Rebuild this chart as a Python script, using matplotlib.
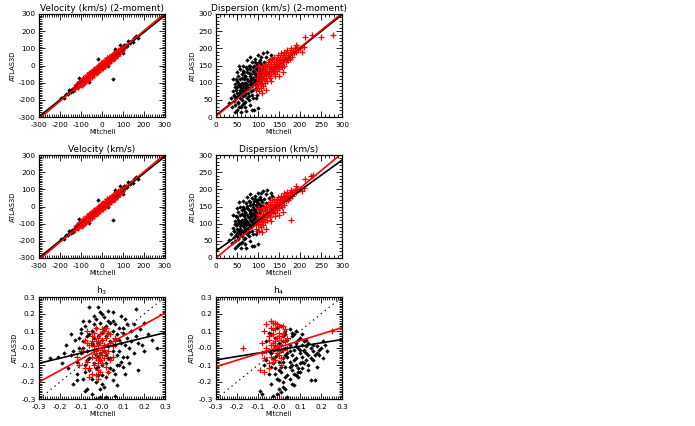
import matplotlib
matplotlib.use("Agg")
import matplotlib.pyplot as plt
from matplotlib.ticker import AutoMinorLocator, FixedLocator, FixedFormatter

# ---------------- data ----------------
titles = ["Velocity (km/s) (2-moment)", "Dispersion (km/s) (2-moment)",
          "Velocity (km/s)", "Dispersion (km/s)", "h$_3$", "h$_4$"]
xlabel = "Mitchell"
ylabel = "ATLAS3D"

vel_ticks = [-300, -200, -100, 0, 100, 200, 300]
vel_labels = ["-300", "-200", "-100", "0", "100", "200", "300"]
disp_ticks = [0, 50, 100, 150, 200, 250, 300]
disp_labels = ["0", "50", "100", "150", "200", "250", "300"]
h_ticks = [-0.3, -0.2, -0.1, 0.0, 0.1, 0.2, 0.3]
h_labels = ["-0.3", "-0.2", "-0.1", "-0.0", "0.1", "0.2", "0.3"]

# Velocity, black points
vel_black_x = [-195, -182, -171, -163, -155, -148, -141, -136, -130, -126,
               -121, -117, -113, -109, -105, -101, -97, -94, -90, -87,
               -84, -80, -77, -74, -71, -68, -65, -62, -59, -56,
               -53, -50, -47, -44, -41, -38, -35, -32, -29, -26,
               -23, -20, -17, -14, -11, -8, -5, -2, 1, 4,
               7, 10, 13, 16, 19, 22, 25, 28, 31, 34,
               37, 40, 43, 46, 49, 52, 55, 58, 61, 64,
               67, 70, 73, 76, 79, 82, 86, 90, 94, 98,
               102, 106, 110, 115, 120, 126, 132, 139, 146, 154,
               162, 170, 51, -20, 30, 60, -60, 85, 100, -110]
vel_black_y = [-187, -192, -166, -166, -143, -154, -137, -148, -123, -128,
               -111, -125, -110, -114, -91, -110, -91, -95, -81, -98,
               -82, -87, -66, -78, -66, -81, -57, -62, -65, -46,
               -56, -43, -56, -40, -56, -26, -37, -26, -37, -23,
               -14, -25, -29, 1, -12, -1, -15, 2, 21, -2,
               10, 1, 24, 12, 25, 8, 27, 36, 24, 44,
               34, 45, 32, 59, 47, 58, 46, 62, 86, 59,
               75, 58, 76, 86, 73, 83, 76, 99, 90, 105,
               92, 118, 107, 120, 112, 141, 130, 145, 135, 158,
               171, 163, -79, 40, -5, 95, -95, 120, 70, -75]

# Velocity, red points
vel_red_x = [-135, -128, -122, -118, -114, -110, -106, -103, -100, -97,
             -94, -91, -88, -85, -83, -80, -78, -75, -73, -70,
             -68, -66, -63, -61, -59, -57, -55, -52, -50, -48,
             -46, -44, -42, -40, -38, -36, -34, -32, -30, -28,
             -26, -24, -22, -20, -18, -16, -14, -12, -10, -8,
             -6, -4, -2, 0, 2, 4, 6, 8, 10, 12,
             14, 16, 18, 20, 22, 24, 26, 28, 30, 32,
             34, 36, 38, 40, 42, 44, 46, 48, 50, 52,
             55, 58, 61, 64, 67, 70, 73, 76, 80, 84,
             88, 92, 97, 103, 110, -45, -25, -5, 15, 35,
             55, -70, -90, 25, 5, -15,
             -120, -112, -104, -96, -92, -86, -82, -76, -72, -66,
             -62, -58, -54, -48, -44, -38, -34, -28, -24, -18,
             -14, -8, -4, 2, 6, 12, 16, 22, 26, 32,
             36, 42, 46, 52, 56, 62, 66, 72, 78, 86]
vel_red_y = [-130, -136, -112, -122, -107, -121, -104, -94, -106, -85,
             -97, -85, -97, -84, -72, -87, -74, -87, -65, -72,
             -58, -71, -60, -71, -52, -57, -63, -40, -54, -42,
             -57, -35, -43, -35, -45, -23, -37, -24, -40, -26,
             -15, -30, -18, -29, -11, -18, -4, -24, -7, -2,
             -14, -3, 10, -5, 11, 1, 13, -3, 14, 6,
             24, 15, 26, 11, 24, 29, 19, 39, 26, 38,
             24, 39, 47, 38, 49, 36, 58, 43, 51, 58,
             46, 68, 58, 72, 61, 74, 62, 83, 82, 80,
             97, 85, 102, 101, 113, -30, -39, 11, 0, 49,
             42, -58, -106, 43, -12, -2,
             -105, -128, -90, -112, -75, -100, -66, -92, -55, -82,
             -45, -74, -38, -65, -28, -54, -20, -44, -8, -35,
             2, -26, 12, -14, 22, -4, 32, 6, 42, 16,
             52, 26, 62, 36, 70, 45, 80, 56, 92, 70]

# Dispersion, black points (same Mitchell values in both rows)
disp_black_x = [32, 35, 38, 40, 42, 44, 45, 46, 47, 48,
                49, 50, 50, 51, 52, 53, 54, 55, 55, 56,
                57, 58, 58, 59, 60, 60, 61, 62, 62, 63,
                64, 65, 65, 66, 67, 67, 68, 69, 70, 70,
                71, 72, 72, 73, 74, 75, 75, 76, 77, 78,
                78, 79, 80, 80, 81, 82, 83, 83, 84, 85,
                85, 86, 87, 88, 88, 89, 90, 90, 91, 92,
                92, 93, 94, 95, 95, 96, 97, 98, 99, 100,
                100, 101, 102, 103, 104, 105, 106, 107, 108, 110,
                112, 113, 115, 117, 118, 120, 122, 125, 128, 130,
                134, 40, 55, 60, 85, 45, 70, 95, 110, 65,
                75, 50,
                42, 46, 50, 53, 56, 59, 62, 64, 66, 68,
                70, 72, 74, 76, 78, 80, 82, 84, 86, 88,
                90, 92, 94, 96, 98, 100, 102, 104, 106, 108,
                48, 58, 68, 78, 88, 98, 52, 62, 72, 82]
disp2_black_y = [40, 55, 30, 75, 48, 62, 95, 35, 80, 55,
                 105, 20, 70, 88, 45, 120, 65, 92, 30, 78,
                 110, 55, 140, 85, 68, 15, 100, 50, 125, 80,
                 95, 60, 135, 110, 75, 40, 88, 120, 65, 100,
                 145, 82, 18, 110, 55, 92, 130, 70, 105, 150,
                 85, 60, 118, 95, 35, 140, 75, 108, 125, 90,
                 160, 65, 115, 100, 135, 80, 150, 110, 20, 95,
                 125, 170, 105, 140, 85, 118, 155, 100, 130, 180,
                 115, 25, 145, 120, 165, 105, 135, 175, 125, 150,
                 185, 140, 160, 130, 175, 150, 190, 165, 145, 180,
                 170, 110, 150, 30, 20, 15, 28, 55, 95, 150,
                 165, 130,
                 65, 88, 58, 100, 72, 95, 115, 88, 130, 70,
                 120, 95, 140, 85, 128, 105, 150, 115, 95, 145,
                 130, 160, 125, 110, 150, 135, 160, 130, 155, 140,
                 110, 90, 45, 50, 55, 65, 40, 35, 95, 175]
disp4_black_y = [52, 70, 45, 88, 60, 78, 108, 50, 95, 68,
                 118, 35, 85, 100, 60, 135, 80, 105, 42, 92,
                 125, 70, 150, 98, 82, 30, 112, 65, 140, 95,
                 108, 75, 148, 122, 90, 55, 102, 135, 80, 115,
                 160, 96, 30, 125, 70, 106, 145, 85, 120, 165,
                 100, 75, 132, 110, 50, 155, 90, 122, 140, 104,
                 175, 80, 130, 115, 150, 95, 165, 125, 35, 110,
                 140, 182, 120, 155, 100, 132, 168, 115, 145, 190,
                 130, 40, 158, 135, 178, 120, 150, 188, 140, 162,
                 195, 152, 172, 142, 185, 160, 198, 175, 155, 188,
                 180, 125, 162, 45, 35, 30, 42, 70, 108, 165,
                 178, 145,
                 78, 100, 72, 112, 85, 108, 128, 100, 142, 84,
                 132, 108, 152, 98, 140, 118, 162, 128, 108, 158,
                 142, 172, 138, 122, 162, 148, 172, 142, 168, 152,
                 122, 104, 58, 64, 70, 80, 55, 48, 108, 185]

# Dispersion, red points (2-moment row)
disp2_red_x = [95, 97, 98, 100, 100, 102, 103, 104, 105, 106,
               107, 108, 109, 110, 110, 111, 112, 113, 114, 115,
               115, 116, 117, 118, 119, 120, 120, 121, 122, 123,
               124, 125, 125, 126, 127, 128, 129, 130, 130, 131,
               132, 133, 134, 135, 135, 136, 137, 138, 139, 140,
               140, 141, 142, 143, 144, 145, 145, 146, 147, 148,
               149, 150, 150, 151, 152, 153, 154, 155, 156, 157,
               158, 159, 160, 161, 162, 163, 165, 166, 167, 168,
               170, 171, 172, 174, 175, 177, 178, 180, 182, 184,
               186, 188, 190, 193, 196, 200, 205, 210, 190, 213,
               229, 249, 279, 120, 130, 140, 110, 160, 100, 150]
disp2_red_y = [80, 100, 115, 90, 130, 105, 75, 120, 95, 140,
               110, 85, 125, 100, 145, 115, 130, 90, 150, 110,
               125, 140, 100, 130, 155, 115, 135, 145, 105, 125,
               160, 140, 120, 130, 150, 115, 165, 135, 145, 125,
               155, 140, 170, 130, 150, 145, 160, 135, 175, 150,
               140, 125, 165, 155, 145, 170, 135, 160, 150, 180,
               145, 165, 155, 140, 175, 160, 150, 185, 165, 145,
               170, 180, 160, 150, 190, 170, 175, 160, 185, 170,
               195, 165, 180, 175, 190, 170, 200, 185, 175, 195,
               185, 200, 190, 205, 195, 200, 190, 205, 209, 233,
               240, 233, 238, 80, 105, 118, 70, 130, 150, 120]

# Dispersion, red points (4-moment row)
disp4_red_x = [95, 97, 98, 100, 100, 102, 103, 104, 105, 106,
               107, 108, 109, 110, 110, 111, 112, 113, 114, 115,
               115, 116, 117, 118, 119, 120, 120, 121, 122, 123,
               124, 125, 125, 126, 127, 128, 129, 130, 130, 131,
               132, 133, 134, 135, 135, 136, 137, 138, 139, 140,
               140, 141, 142, 143, 144, 145, 145, 146, 147, 148,
               149, 150, 150, 151, 152, 153, 154, 155, 156, 157,
               158, 159, 160, 161, 162, 163, 165, 166, 167, 168,
               170, 171, 172, 174, 175, 177, 178, 180, 182, 184,
               186, 188, 190, 193, 196, 200, 205, 210, 190, 213,
               226, 232, 179, 120, 130, 140, 110, 160, 100, 150]
disp4_red_y = [85, 105, 112, 95, 128, 110, 80, 118, 100, 138,
               115, 90, 122, 105, 142, 118, 128, 95, 148, 115,
               122, 138, 105, 128, 152, 120, 132, 142, 110, 128,
               158, 138, 125, 135, 148, 120, 162, 138, 142, 130,
               152, 145, 168, 135, 148, 150, 158, 140, 172, 152,
               145, 130, 162, 158, 148, 168, 140, 158, 155, 178,
               150, 162, 158, 145, 172, 162, 155, 182, 168, 150,
               172, 178, 165, 155, 188, 172, 178, 165, 182, 175,
               192, 168, 182, 178, 188, 175, 198, 188, 180, 195,
               188, 198, 192, 202, 198, 202, 195, 205, 210, 230,
               239, 242, 110, 85, 108, 122, 75, 135, 145, 125]

# h3
h3_black_x = [-0.21, -0.19, -0.17, -0.16, -0.15, -0.14, -0.13, -0.12, -0.12, -0.11,
              -0.10, -0.10, -0.09, -0.09, -0.08, -0.08, -0.07, -0.07, -0.07, -0.06,
              -0.06, -0.06, -0.05, -0.05, -0.05, -0.04, -0.04, -0.04, -0.03, -0.03,
              -0.03, -0.02, -0.02, -0.02, -0.01, -0.01, -0.01, 0.00, 0.00, 0.00,
              0.01, 0.01, 0.01, 0.02, 0.02, 0.02, 0.03, 0.03, 0.03, 0.04,
              0.04, 0.05, 0.05, 0.05, 0.06, 0.06, 0.07, 0.07, 0.08, 0.08,
              0.09, 0.09, 0.10, 0.10, 0.11, 0.12, 0.12, 0.13, 0.14, 0.15,
              0.16, 0.16, 0.17, 0.18, 0.19, 0.20, 0.22, 0.24, 0.26, -0.25,
              -0.06, -0.03, 0.00, 0.02, 0.05, -0.08, -0.02, 0.04, 0.07, -0.04,
              -0.05, -0.01, 0.03, 0.06, -0.11, 0.11, 0.13, -0.14, 0.15, 0.01,
              -0.02, 0.03, -0.07, 0.08, 0.00, -0.09, 0.10, -0.03, 0.05, 0.02,
              -0.15, -0.12, -0.10, -0.08, -0.06, -0.05, -0.04, -0.03, -0.02, -0.01,
              0.00, 0.01, 0.02, 0.03, 0.04, 0.05, 0.06, 0.07, 0.08, 0.09,
              0.10, 0.12, 0.14, 0.17, 0.20, -0.18, -0.09, 0.06, 0.11, -0.01]
h3_black_y = [-0.05, -0.09, 0.02, -0.12, -0.04, -0.21, 0.05, -0.08, -0.15, 0.00,
              -0.03, 0.09, -0.18, 0.04, -0.10, 0.13, -0.02, -0.24, 0.07, 0.16,
              -0.06, -0.13, 0.02, 0.10, -0.27, -0.09, 0.06, 0.19, -0.04, 0.12,
              -0.20, 0.03, -0.11, 0.24, -0.07, 0.15, -0.29, 0.05, -0.16, 0.09,
              -0.02, 0.18, -0.23, 0.07, -0.09, 0.13, 0.01, -0.14, 0.22, 0.04,
              -0.06, 0.10, -0.19, 0.16, 0.02, -0.28, 0.08, -0.04, 0.12, -0.10,
              0.03, 0.19, -0.05, 0.09, -0.15, 0.06, 0.14, 0.00, 0.10, -0.03,
              0.23, 0.07, -0.13, 0.11, 0.02, 0.15, 0.08, 0.05, 0.00, -0.06,
              0.24, -0.30, 0.20, -0.29, 0.21, -0.25, -0.05, 0.15, -0.22, -0.01,
              0.03, -0.03, -0.06, 0.05, 0.06, 0.02, -0.09, -0.02, 0.14, 0.11,
              0.07, 0.09, -0.07, -0.02, -0.10, 0.00, -0.11, -0.12, -0.13, -0.04,
              0.08, -0.19, 0.11, -0.14, 0.08, -0.18, 0.14, 0.17, -0.16, 0.21,
              -0.21, 0.12, -0.17, 0.16, -0.12, -0.02, 0.14, -0.10, 0.05, -0.08,
              0.12, -0.05, 0.04, 0.03, -0.02, -0.03, 0.16, -0.15, 0.17, -0.24]
h3_red_x = [-0.09, -0.08, -0.07, -0.07, -0.06, -0.06, -0.05, -0.05, -0.05, -0.04,
            -0.04, -0.04, -0.03, -0.03, -0.03, -0.02, -0.02, -0.02, -0.02, -0.01,
            -0.01, -0.01, 0.00, 0.00, 0.00, 0.01, 0.01, 0.01, 0.02, 0.02,
            0.02, 0.03, 0.03, 0.04, 0.04, 0.05, 0.05, 0.06, -0.06, -0.08,
            -0.03, -0.01, 0.00, -0.04, 0.01, -0.02, 0.03, -0.05, 0.02, -0.01,
            -0.07, 0.00, -0.03, 0.04, -0.02, -0.12, -0.11, -0.10, -0.02, 0.06]
h3_red_y = [-0.02, 0.05, -0.08, 0.10, -0.12, 0.02, 0.07, -0.05, -0.15, 0.01,
            0.09, -0.10, -0.03, 0.04, 0.12, -0.07, 0.00, 0.06, -0.13, -0.04,
            0.03, 0.08, -0.09, -0.01, 0.05, -0.06, 0.02, 0.10, -0.03, -0.11,
            0.06, -0.02, 0.09, -0.07, 0.03, 0.01, -0.05, 0.04, -0.17, -0.12,
            -0.16, -0.14, 0.11, -0.01, -0.01, 0.02, -0.14, 0.04, 0.12, -0.07,
            0.03, -0.04, -0.06, 0.08, -0.09, -0.05, -0.10, -0.02, -0.18, 0.06]

# h4
h4_black_x = [-0.09, -0.08, -0.07, -0.06, -0.05, -0.05, -0.04, -0.04, -0.03, -0.03,
              -0.03, -0.02, -0.02, -0.02, -0.01, -0.01, -0.01, 0.00, 0.00, 0.00,
              0.01, 0.01, 0.01, 0.02, 0.02, 0.02, 0.03, 0.03, 0.03, 0.04,
              0.04, 0.04, 0.05, 0.05, 0.05, 0.06, 0.06, 0.06, 0.07, 0.07,
              0.07, 0.08, 0.08, 0.08, 0.09, 0.09, 0.10, 0.10, 0.10, 0.11,
              0.11, 0.12, 0.12, 0.13, 0.13, 0.14, 0.14, 0.15, 0.15, 0.16,
              0.16, 0.17, 0.18, 0.18, 0.19, 0.20, 0.21, 0.22, 0.23, 0.18,
              -0.06, 0.02, 0.05, -0.01, 0.03, 0.08, 0.11, 0.00, -0.04, 0.06,
              0.01, 0.04, 0.09, 0.12, 0.02, -0.02, 0.07, 0.10, 0.13, 0.15,
              0.03, 0.09, 0.05, -0.03, 0.00, 0.11, 0.17, 0.14,
              -0.04, -0.02, 0.00, 0.02, 0.03, 0.05, 0.06, 0.08, 0.09, 0.11,
              0.12, 0.14, 0.16, 0.19, 0.21, 0.01, 0.04, 0.07, -0.05, 0.10,
              0.13, 0.03, 0.06, -0.01, 0.08]
h4_black_y = [-0.25, -0.27, -0.10, 0.04, -0.15, -0.02, 0.08, -0.21, -0.06, 0.11,
              -0.28, 0.01, -0.12, 0.06, -0.04, -0.18, 0.12, -0.08, 0.03, -0.24,
              0.13, -0.02, -0.14, 0.07, -0.06, -0.20, 0.00, 0.10, -0.11, -0.03,
              0.05, -0.16, -0.08, 0.02, 0.11, -0.04, -0.13, 0.07, -0.01, -0.22,
              0.08, -0.06, 0.03, -0.10, 0.00, -0.17, -0.03, 0.06, -0.09, 0.02,
              -0.12, -0.01, 0.04, -0.07, 0.01, -0.04, 0.03, -0.19, 0.00, -0.02,
              0.02, -0.19, -0.03, 0.01, -0.01, 0.00, -0.06, 0.02, -0.02, -0.11,
              -0.07, 0.04, -0.02, 0.00, -0.04, 0.01, -0.05, -0.01, -0.03, 0.09,
              -0.26, -0.29, -0.14, -0.02, -0.08, -0.05, -0.07, -0.01, -0.03, -0.06,
              -0.24, 0.05, -0.11, -0.09, -0.13, -0.08, -0.04, -0.10,
              -0.11, -0.15, -0.19, -0.23, 0.08, -0.18, -0.10, 0.10, -0.12, 0.08,
              -0.09, -0.13, -0.07, -0.04, 0.04, -0.11, -0.05, -0.15, 0.09, -0.14,
              0.05, -0.17, -0.21, -0.27, -0.16]
h4_red_x = [-0.09, -0.08, -0.07, -0.07, -0.06, -0.06, -0.05, -0.05, -0.04, -0.04,
            -0.04, -0.03, -0.03, -0.03, -0.02, -0.02, -0.02, -0.01, -0.01, -0.01,
            0.00, 0.00, 0.00, 0.01, 0.01, 0.01, 0.02, 0.02, 0.03, 0.03,
            0.04, 0.04, -0.05, -0.03, -0.01, 0.00, -0.17, 0.25, 0.01, -0.07,
            -0.06, -0.02, -0.08, 0.02, -0.04, 0.00, -0.02, 0.01, -0.05, -0.03]
h4_red_y = [-0.13, 0.03, -0.06, 0.10, -0.02, 0.14, 0.07, -0.09, 0.02, 0.12,
            -0.05, 0.08, -0.01, 0.15, 0.04, -0.07, 0.11, 0.01, 0.06, -0.03,
            0.09, -0.02, 0.13, 0.05, -0.06, 0.02, 0.08, -0.01, 0.04, 0.11,
            0.00, 0.06, 0.05, 0.03, 0.14, -0.04, 0.00, 0.10, -0.30, -0.14,
            0.00, 0.00, -0.03, 0.13, 0.16, 0.07, 0.15, -0.10, -0.12, -0.08]

# Fitted lines (end points)
vel_fit_x = [-300, 300]
vel2_fit_black = [-298, 292]
vel2_fit_red = [-310, 305]
vel4_fit_black = [-298, 292]
vel4_fit_red = [-310, 305]
disp_fit_x = [0, 300]
disp2_fit_black = [5, 298]
disp2_fit_red = [2, 302]
disp4_fit_black = [20, 285]
disp4_fit_red = [0, 305]
h_fit_x = [-0.3, 0.3]
h_one_to_one = [-0.3, 0.3]
h3_fit_black = [-0.09, 0.09]
h3_fit_red = [-0.20, 0.205]
h4_fit_black = [-0.07, 0.05]
h4_fit_red = [-0.11, 0.12]

# ---------------- figure ----------------
plt.rcParams['font.family'] = ['DejaVu Sans']
fig = plt.figure(figsize=(6.95, 4.26), dpi=100)

col_left = [39 / 695, 216 / 695]
ax_w = 126 / 695
row_bottom = [1 - 117 / 426, 1 - 258 / 426, 1 - 399 / 426]
row_h = [103 / 426, 103 / 426, 102 / 426]

RED = '#ff0000'


def style(ax, ticks, labels, nminor):
    ax.set_xlim(ticks[0], ticks[-1])
    ax.set_ylim(ticks[0], ticks[-1])
    ax.xaxis.set_major_locator(FixedLocator(ticks))
    ax.yaxis.set_major_locator(FixedLocator(ticks))
    ax.xaxis.set_major_formatter(FixedFormatter(labels))
    ax.yaxis.set_major_formatter(FixedFormatter(labels))
    ax.xaxis.set_minor_locator(AutoMinorLocator(nminor))
    ax.yaxis.set_minor_locator(AutoMinorLocator(nminor))
    ax.tick_params(which='both', direction='in', top=True, right=True,
                   labelsize=5.3, width=0.6)
    ax.tick_params(axis='x', which='major', pad=3.5)
    ax.tick_params(axis='y', which='major', pad=2.5)
    ax.tick_params(which='major', length=4)
    ax.tick_params(which='minor', length=2)
    for s in ax.spines.values():
        s.set_linewidth(0.9)
    ax.set_xlabel(xlabel, fontsize=4.9, labelpad=1)
    ax.set_ylabel(ylabel, fontsize=4.9, labelpad=2)


def scatter(ax, bx, by, rx, ry):
    ax.plot(bx, by, linestyle='none', marker='D', ms=1.9, color='black',
            markeredgewidth=0.3)
    ax.plot(rx, ry, linestyle='none', marker='+', ms=4.2, color=RED,
            markeredgewidth=0.9)


panels = []
for r in range(3):
    for c in range(2):
        panels.append(fig.add_axes([col_left[c], row_bottom[r], ax_w, row_h[r]]))

# Row 1
ax = panels[0]
scatter(ax, vel_black_x, vel_black_y, vel_red_x, vel_red_y)
ax.plot(vel_fit_x, vel2_fit_black, color='black', lw=1.2)
ax.plot(vel_fit_x, vel2_fit_red, color=RED, lw=1.2)
style(ax, vel_ticks, vel_labels, 10)

ax = panels[1]
scatter(ax, disp_black_x, disp2_black_y, disp2_red_x, disp2_red_y)
ax.plot(disp_fit_x, disp2_fit_black, color='black', lw=1.2)
ax.plot(disp_fit_x, disp2_fit_red, color=RED, lw=1.2)
style(ax, disp_ticks, disp_labels, 5)

# Row 2
ax = panels[2]
scatter(ax, vel_black_x, vel_black_y, vel_red_x, vel_red_y)
ax.plot(vel_fit_x, vel4_fit_black, color='black', lw=1.2)
ax.plot(vel_fit_x, vel4_fit_red, color=RED, lw=1.2)
style(ax, vel_ticks, vel_labels, 10)

ax = panels[3]
scatter(ax, disp_black_x, disp4_black_y, disp4_red_x, disp4_red_y)
ax.plot(disp_fit_x, disp4_fit_black, color='black', lw=1.2)
ax.plot(disp_fit_x, disp4_fit_red, color=RED, lw=1.2)
style(ax, disp_ticks, disp_labels, 5)

# Row 3
ax = panels[4]
scatter(ax, h3_black_x, h3_black_y, h3_red_x, h3_red_y)
ax.plot(h_fit_x, h_one_to_one, color='black', lw=0.9, linestyle=(0, (1, 3)))
ax.plot(h_fit_x, h3_fit_black, color='black', lw=1.2)
ax.plot(h_fit_x, h3_fit_red, color=RED, lw=1.2)
style(ax, h_ticks, h_labels, 10)

ax = panels[5]
scatter(ax, h4_black_x, h4_black_y, h4_red_x, h4_red_y)
ax.plot(h_fit_x, h_one_to_one, color='black', lw=0.9, linestyle=(0, (1, 3)))
ax.plot(h_fit_x, h4_fit_black, color='black', lw=1.2)
ax.plot(h_fit_x, h4_fit_red, color=RED, lw=1.2)
style(ax, h_ticks, h_labels, 10)

for ax, t in zip(panels, titles):
    ax.set_title(t, fontsize=6.5, pad=2)

fig.savefig("out.png", dpi=100)
